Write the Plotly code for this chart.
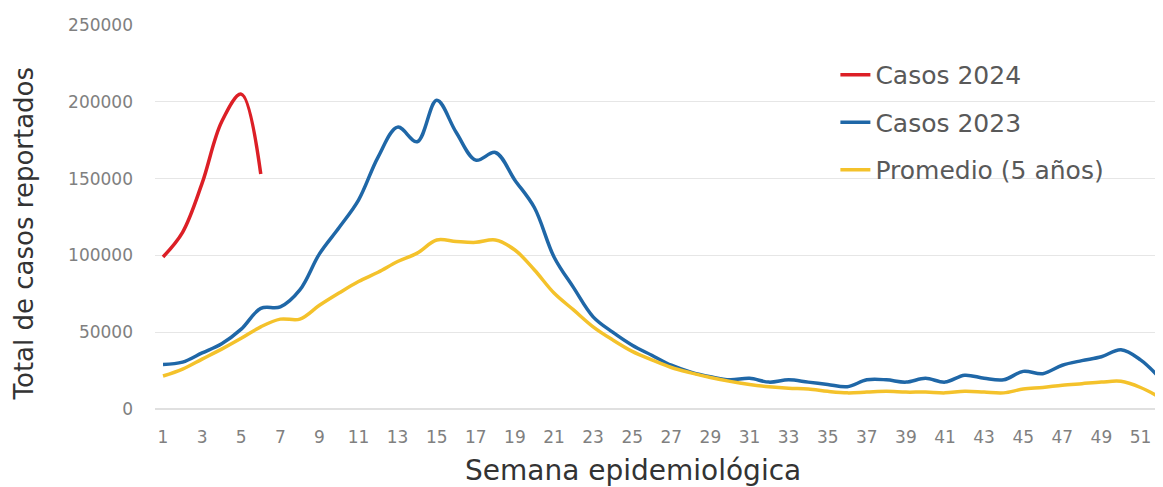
import plotly.graph_objects as go

semanas = list(range(1, 53))

casos_2024 = [99000, 115000, 147000, 187000, 205000, 153000]

casos_2023 = [29000, 30500, 36500, 42500, 52000, 65500, 66500, 77500, 101000, 118000,
              136000, 164000, 183500, 174000, 201000, 180000, 162000, 167000, 149000, 131000,
              99000, 79000, 60000, 50000, 41500, 35000, 28500, 24000, 21000, 19000,
              20000, 17500, 19000, 17500, 16000, 14500, 19000, 19000, 17500, 20000,
              17500, 22000, 20000, 19000, 24500, 23000, 28500, 31500, 34000, 38500,
              32000, 20000]

promedio_5 = [21500, 26000, 32500, 39000, 46000, 53500, 58500, 58500, 67500, 75500,
              83000, 89000, 96000, 101500, 110000, 109000, 108500, 110000, 103500, 90500,
              75500, 64500, 53500, 45000, 37500, 32000, 27000, 23500, 20500, 18000,
              16000, 14500, 13500, 13000, 11500, 10500, 11000, 11500, 11000, 11000,
              10500, 11500, 11000, 10500, 13000, 14000, 15500, 16500, 17500, 18000,
              14000, 7500]

series = [
    ('Casos 2024', semanas[:len(casos_2024)], casos_2024, '#dc1f26'),
    ('Casos 2023', semanas, casos_2023, '#1f67a7'),
    ('Promedio (5 años)', semanas, promedio_5, '#f4c22b'),
]

FONT = 'DejaVu Sans'

fig = go.Figure()
for nombre, x, y, color in series:
    fig.add_trace(go.Scatter(x=x, y=y, name=nombre, mode='lines', legendgroup=nombre,
                             line=dict(color=color, width=3.5, shape='spline', smoothing=1.0)))

# la pagina tiene 8px de margen en el body, se descuentan del tamaño
fig.update_layout(
    width=1155, height=479,
    margin=dict(l=147, r=0, t=17, b=78),
    plot_bgcolor='white', paper_bgcolor='white',
    font=dict(family=FONT, color='#808080'),
    legend=dict(x=0.675, y=0.93, xanchor='left', yanchor='top',
                font=dict(family=FONT, size=25, color='#595959'),
                bgcolor='rgba(0,0,0,0)', tracegroupgap=12),
    showlegend=True,
)

fig.update_xaxes(range=[0.59, 52.15], tick0=1, dtick=2, showgrid=False, zeroline=False,
                 showline=False, ticks='', ticklabelstandoff=16, automargin=False,
                 tickfont=dict(family=FONT, size=17, color='#808080'))
fig.update_yaxes(range=[0, 250000], dtick=50000, gridcolor='#e6e6e6', gridwidth=1,
                 zeroline=True, zerolinecolor='#e0e0e0', showline=False, ticks='',
                 ticklabelstandoff=21, tickformat='d', automargin=False,
                 tickfont=dict(family=FONT, size=17, color='#808080'))

# titulos de ejes como anotaciones para fijar su posicion
fig.add_annotation(text='Semana epidemiológica', xref='paper', yref='paper',
                   x=0.474, y=-0.159, xanchor='center', yanchor='middle', showarrow=False,
                   font=dict(family=FONT, size=28, color='#333333'))
fig.add_annotation(text='Total de casos reportados', xref='paper', yref='paper',
                   x=-0.13, y=0.457, xanchor='center', yanchor='middle', showarrow=False,
                   textangle=-90, font=dict(family=FONT, size=26, color='#333333'))

fig.write_html("out.html")
